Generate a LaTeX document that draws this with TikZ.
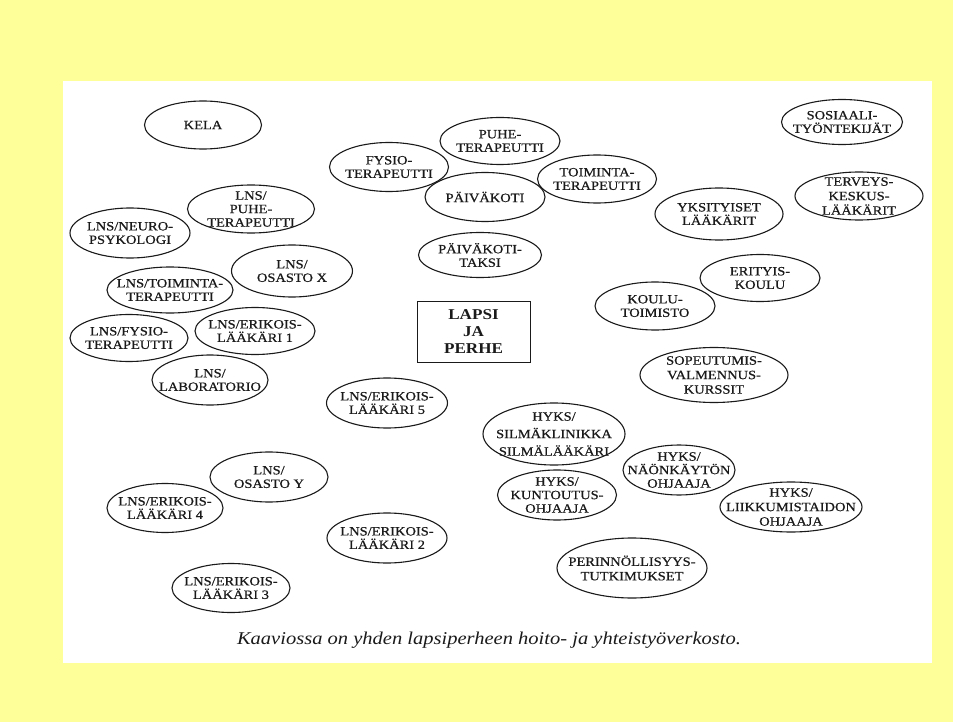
\documentclass[tikz,border=0pt]{standalone}
\usepackage{fontspec}
\setmainfont{Liberation Serif}[FakeStretch=1.14]
\newfontfamily\labfont{Liberation Serif}[FakeStretch=1.14,FakeBold=0.6]
\usetikzlibrary{shapes.geometric}
\definecolor{bgyellow}{HTML}{FFFF99}
\definecolor{ink}{HTML}{1A1A1A}
\tikzset{
  oval/.style={draw=ink, ellipse, line width=1.1pt, inner sep=0pt},
  txt/.style={align=center, text=ink, inner sep=0pt, font=\labfont\fontsize{12.7}{13.5}\selectfont},
  wide/.style={font=\labfont\fontsize{12.7}{14.5}\selectfont},
  widest/.style={font=\labfont\fontsize{12.7}{17.5}\selectfont},
  centrebox/.style={draw=ink, line width=1pt, rectangle, inner sep=0pt,
    minimum width=113pt, minimum height=61pt},
  boxtxt/.style={align=center, text=ink, inner sep=0pt, font=\fontsize{15}{16.7}\selectfont\bfseries},
  caption/.style={text=ink, inner sep=0pt, anchor=base, font=\fontsize{18}{20}\selectfont\itshape}
}
\newcommand\bub[7][]{%
  \node[oval, minimum width=#5pt, minimum height=#6pt] (#2) at (#3,#4) {};
  \node[txt,#1] (#2-t) at (#2.center) {#7};}
\begin{document}
\begin{tikzpicture}[x=1pt,y=-1pt]
\useasboundingbox (0,0) rectangle (953,722);
\fill[bgyellow] (0,0) rectangle (953,722);
\fill[white] (63,81) rectangle (932,663);

\bub{kela}{203}{125}{117}{48}{KELA}
\bub{fysio}{389}{167}{119}{49}{FYSIO-\\TERAPEUTTI}
\bub{puhe}{500}{141}{120}{47}{PUHE-\\TERAPEUTTI}
\bub{paivakoti}{485}{197}{120}{49}{PÄIVÄKOTI}
\bub{toiminta}{597}{179}{119}{48}{TOIMINTA-\\TERAPEUTTI}
\bub{taksi}{480}{255}{123}{45}{PÄIVÄKOTI-\\TAKSI}
\bub{sosiaali}{842}{122}{121}{45}{SOSIAALI-\\TYÖNTEKIJÄT}
\bub[wide]{terveys}{859}{196}{128}{48}{TERVEYS-\\KESKUS-\\LÄÄKÄRIT}
\bub{yksityiset}{719}{214}{128}{52}{YKSITYISET\\LÄÄKÄRIT}
\bub{erityis}{760}{278}{120}{47}{ERITYIS-\\KOULU}
\bub{koulu}{655}{306}{120}{48}{KOULU-\\TOIMISTO}
\bub[wide]{sopeutumis}{714}{375}{148}{55}{SOPEUTUMIS-\\VALMENNUS-\\KURSSIT}
\bub[widest]{silma}{554}{434}{142}{62}{HYKS/\\SILMÄKLINIKKA\\SILMÄLÄÄKÄRI}
\bub{kuntoutus}{557}{495}{119}{50}{HYKS/\\KUNTOUTUS-\\OHJAAJA}
\bub{naon}{679}{470}{112}{50}{HYKS/\\NÄÖNKÄYTÖN\\OHJAAJA}
\bub[wide]{liikkumis}{791}{507}{142}{50}{HYKS/\\LIIKKUMISTAIDON\\OHJAAJA}
\bub[wide]{perinn}{632}{568}{150}{60}{PERINNÖLLISYYS-\\TUTKIMUKSET}
\bub{erik5}{387}{403}{121}{50}{LNS/ERIKOIS-\\LÄÄKÄRI 5}
\bub{erik2}{387}{538}{120}{50}{LNS/ERIKOIS-\\LÄÄKÄRI 2}
\bub{lnspuhe}{251}{209}{127}{48}{LNS/\\PUHE-\\TERAPEUTTI}
\bub{neuro}{130}{233}{120}{50}{LNS/NEURO-\\PSYKOLOGI}
\bub{osastox}{292}{271}{121}{52}{LNS/\\OSASTO X}
\bub{lnstoim}{170}{290}{126}{46}{LNS/TOIMINTA-\\TERAPEUTTI}
\bub{lnsfysio}{129}{338}{118}{47}{LNS/FYSIO-\\TERAPEUTTI}
\bub{erik1}{255}{331}{120}{47}{LNS/ERIKOIS-\\LÄÄKÄRI 1}
\bub{lab}{210}{380}{116}{50}{LNS/\\LABORATORIO}
\bub{osastoy}{269}{477}{118}{50}{LNS/\\OSASTO Y}
\bub{erik4}{165}{508}{116}{49}{LNS/ERIKOIS-\\LÄÄKÄRI 4}
\bub{erik3}{231}{588}{118}{49}{LNS/ERIKOIS-\\LÄÄKÄRI 3}

\node[centrebox] (lapsi) at (473.5,331.5) {};
\node[boxtxt] (lapsi-t) at (lapsi.center) {LAPSI\\JA\\PERHE};

\node[caption] (cap) at (489,644) {Kaaviossa on yhden lapsiperheen hoito- ja yhteistyöverkosto.};
\end{tikzpicture}
\end{document}
